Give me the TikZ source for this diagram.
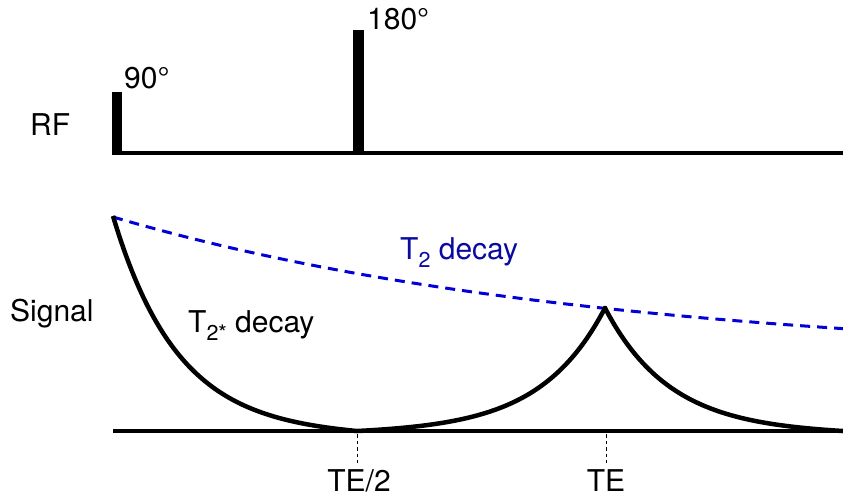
\documentclass[tikz,border=0pt]{standalone}
\usepackage{fontspec}
\setmainfont{TeX Gyre Heros}
\definecolor{dashblue}{RGB}{0,0,215}
\definecolor{textblue}{RGB}{10,10,160}
\newcommand{\subtwo}[1]{\raisebox{-0.27em}{\fontsize{21.5}{24}\selectfont #1}}
\begin{document}
\begin{tikzpicture}[x=1pt,y=-1pt,
  lbl/.style={inner sep=0pt,anchor=base west,font=\fontsize{30}{35}\selectfont},
  axisline/.style={line width=4pt},
  pulse/.style={fill=black,draw=none},
  sigcurve/.style={line width=4.5pt,line join=miter,miter limit=20},
  t2curve/.style={dashblue,line width=3pt,dash pattern=on 10pt off 7pt},
  tick/.style={line width=1pt,dash pattern=on 3.5pt off 3pt}]
\useasboundingbox (0,0) rectangle (843,496);
% RF line
\coordinate (rfL) at (112,153);
\coordinate (rfR) at (843,153);
\draw[axisline] (rfL) -- (rfR);
\path[pulse] (112,92) rectangle (122,155);
\path[pulse] (353,30) rectangle (364,155);
% Signal baseline
\coordinate (sL) at (113,431);
\coordinate (sR) at (843,431);
\draw[axisline] (sL) -- (sR);
% T2 dashed decay
\draw[t2curve] plot[domain=113:843,samples=120,smooth] (\x,{431-(70+144*exp(-0.00205*(\x-113)))});
% FID
\draw[sigcurve] plot[domain=113:357,samples=120,smooth] (\x,{431-215*(exp(-0.0155*(\x-113))-0.0228*(\x-113)/244)});
% Echo
\draw[sigcurve] plot[domain=357:605,samples=120,smooth] (\x,{431-123*(exp(-0.0155*(605-\x))-0.0214*(605-\x)/248)})
  -- plot[domain=605:843,samples=120,smooth] (\x,{431-123*(exp(-0.0155*(\x-605))-0.0250*(\x-605)/238)});
% ticks
\coordinate (t1a) at (357,434);
\coordinate (t1b) at (357,463);
\coordinate (t2a) at (606,434);
\coordinate (t2b) at (606,463);
\draw[tick] (t1a) -- (t1b);
\draw[tick] (t2a) -- (t2b);
% labels
\node[lbl] (rf) at (30,135) {RF};
\node[lbl] (sig) at (10,321) {Signal};
\node[lbl] (p90) at (124,88) {90°};
\node[lbl] (p180) at (367,29) {180°};
\node[lbl,textblue] (t2) at (400,259) {T\subtwo{2} decay};
\node[lbl] (t2s) at (188,332) {T\subtwo{2*} decay};
\node[inner sep=0pt,anchor=base,font=\fontsize{30}{35}\selectfont] (te2) at (359,491) {TE/2};
\node[inner sep=0pt,anchor=base,font=\fontsize{30}{35}\selectfont] (te) at (606,491) {TE};
\end{tikzpicture}
\end{document}
